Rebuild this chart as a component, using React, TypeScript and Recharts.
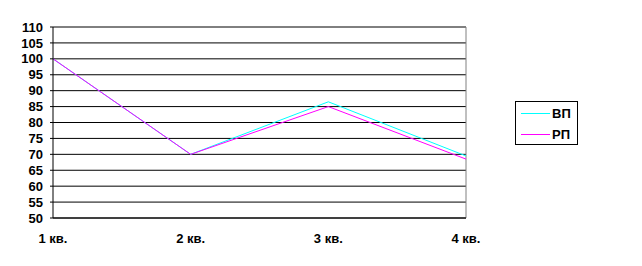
import React from 'react';
import {
  LineChart, Line, XAxis, YAxis, CartesianGrid, Legend, ReferenceLine
} from 'recharts';

// Кварталы и значения
const quarters = ['1 кв.', '2 кв.', '3 кв.', '4 кв.'];
const vpValues = [100, 70, 86.5, 69.5];
const rpValues = [100, 70, 85, 68.5];
const yTicks = [50, 55, 60, 65, 70, 75, 80, 85, 90, 95, 100, 105, 110];

const COLORS = { vp: '#00FFFF', rp: '#FF00FF' };

const data = quarters.map((q, i) => ({
  name: q,
  vp: vpValues[i],
  rp: rpValues[i],
}));

const font = '"Liberation Sans", Arial, sans-serif';

function LegendBox() {
  const items = [
    { label: 'ВП', color: COLORS.vp },
    { label: 'РП', color: COLORS.rp },
  ];
  return (
    <div
      style={{
        width: 61,
        height: 42,
        border: '1px solid #000',
        fontFamily: font,
        fontWeight: 'bold',
        fontSize: 13,
        position: 'relative',
        background: '#fff',
      }}
    >
      {items.map((it, i) => (
        <div
          key={it.label}
          style={{
            position: 'absolute',
            left: 5,
            top: 4 + i * 21,
            display: 'flex',
            alignItems: 'center',
            height: 15,
            whiteSpace: 'nowrap',
          }}
        >
          <span style={{ display: 'inline-block', width: 29, height: 1, background: it.color }} />
          <span style={{ marginLeft: 2, lineHeight: '15px' }}>{it.label}</span>
        </div>
      ))}
    </div>
  );
}

export default function App() {
  return (
    <div style={{ position: 'absolute', left: 0, top: 0, width: 642, height: 266, background: '#fff' }}>
      <LineChart
        width={642}
        height={266}
        data={data}
        margin={{ top: 27, right: 176, bottom: 18, left: 0 }}
      >
        <CartesianGrid vertical={false} stroke="#000" strokeDasharray="" />
        <ReferenceLine y={110} stroke="#808080" />
        <ReferenceLine x="4 кв." stroke="#808080" />
        <XAxis
          dataKey="name"
          padding={{ left: 0, right: 0 }}
          stroke="#000"
          tickLine={false}
          tickSize={0}
          tickMargin={16}
          height={30}
          interval={0}
          tick={{ fill: '#000', fontFamily: font, fontWeight: 'bold', fontSize: 13 }}
        />
        <YAxis
          domain={[50, 110]}
          ticks={yTicks}
          interval={0}
          width={53}
          stroke="#000"
          tickSize={3}
          tickMargin={7}
          tick={{ fill: '#000', fontFamily: font, fontWeight: 'bold', fontSize: 13 }}
        />
        <Legend
          layout="vertical"
          align="center"
          verticalAlign="middle"
          content={<LegendBox />}
          wrapperStyle={{ left: 515, top: 101, width: 63, height: 44 }}
        />
        <Line type="linear" dataKey="vp" name="ВП" stroke={COLORS.vp} strokeWidth={1} dot={false} isAnimationActive={false} />
        <Line type="linear" dataKey="rp" name="РП" stroke={COLORS.rp} strokeWidth={1} dot={false} isAnimationActive={false} />
      </LineChart>
    </div>
  );
}
